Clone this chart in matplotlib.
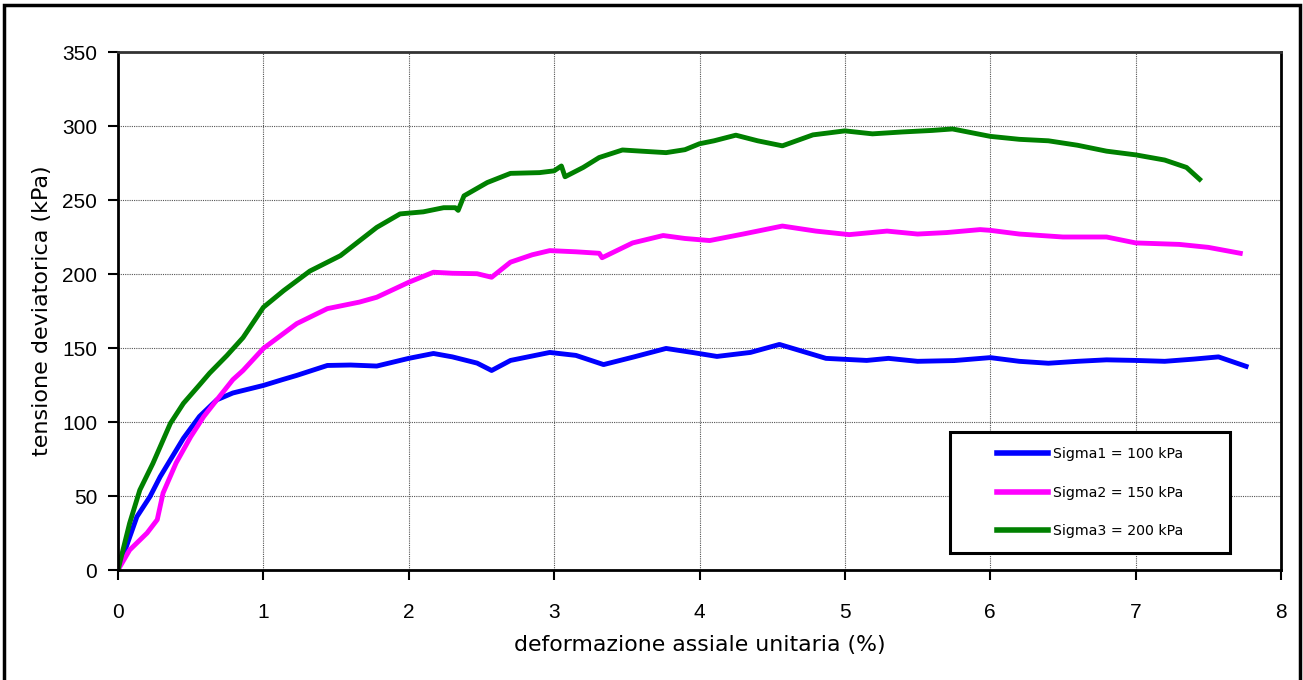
import matplotlib.pyplot as plt
from matplotlib.patches import Rectangle

# dati: deformazione (%) e tensione deviatorica (kPa)
x_s1 = [0, 0.04, 0.13, 0.22, 0.29, 0.36, 0.45, 0.56, 0.68, 0.79, 0.93, 1.0, 1.13, 1.23, 1.44, 1.6,
        1.78, 2.0, 2.17, 2.3, 2.47, 2.57, 2.7, 2.97, 3.15, 3.34, 3.55, 3.77, 3.95, 4.12, 4.35,
        4.55, 4.7, 4.87, 5.15, 5.3, 5.5, 5.75, 6.0, 6.2, 6.4, 6.6, 6.8, 7.0, 7.2, 7.4, 7.57, 7.76]
y_s1 = [0, 11, 36, 49.6, 63, 74.4, 89, 103.7, 115, 119.6, 123, 124.7, 128.6, 131.5, 138.2, 138.5,
        137.8, 143, 146.3, 144, 139.8, 134.8, 141.6, 147, 145, 138.8, 144, 149.7, 147, 144.3, 147,
        152.4, 148, 143, 141.6, 143, 141, 141.5, 143.5, 141, 139.7, 141, 142, 141.6, 141, 142.5, 144, 137.6]

x_s2 = [0, 0.08, 0.2, 0.27, 0.31, 0.4, 0.5, 0.59, 0.68, 0.79, 0.86, 1.0, 1.23, 1.44, 1.66, 1.78,
        2.0, 2.17, 2.3, 2.47, 2.57, 2.7, 2.85, 2.97, 3.15, 3.31, 3.33, 3.54, 3.75, 3.9, 4.07,
        4.3, 4.57, 4.8, 5.03, 5.29, 5.5, 5.7, 5.93, 6.0, 6.2, 6.5, 6.8, 7.0, 7.3, 7.5, 7.72]
y_s2 = [0, 13.5, 25, 34, 52, 72.4, 90, 103.7, 115, 128.6, 134.8, 149.7, 166.5, 176.6, 181, 184.3,
        194.4, 201.2, 200.5, 200.2, 197.8, 208, 213, 215.8, 215, 214, 211, 221, 226, 224, 222.6,
        227, 232.4, 229, 226.6, 229, 227, 228, 230, 229.5, 227, 225, 225, 221, 220, 218, 214]

x_s3 = [0, 0.08, 0.15, 0.24, 0.36, 0.45, 0.56, 0.63, 0.75, 0.86, 1.0, 1.14, 1.32, 1.53, 1.78,
        1.94, 2.1, 2.24, 2.32, 2.34, 2.38, 2.54, 2.7, 2.9, 3.0, 3.05, 3.075, 3.2, 3.31, 3.47,
        3.6, 3.77, 3.9, 4.0, 4.1, 4.25, 4.4, 4.57, 4.78, 5.0, 5.19, 5.4, 5.6, 5.74, 6.0, 6.2,
        6.4, 6.6, 6.8, 7.0, 7.2, 7.35, 7.44]
y_s3 = [0, 31.6, 54, 72, 99, 112.6, 125, 133, 145, 157, 177.5, 188.8, 202, 212.4, 231.5,
        240.6, 242, 244.8, 244.8, 243, 252.8, 261.8, 268, 268.5, 269.7, 273, 265.7, 272, 278.7, 283.8,
        283, 282, 284, 288, 290, 293.8, 290, 286.6, 294, 296.7, 294.7, 296, 297, 298, 293, 291,
        290, 287, 283, 280.5, 277, 272, 264]

x_ticks = [0, 1, 2, 3, 4, 5, 6, 7, 8]
y_ticks = [0, 50, 100, 150, 200, 250, 300, 350]

serie = ['Sigma1 = 100 kPa', 'Sigma2 = 150 kPa', 'Sigma3 = 200 kPa']
colori = ['#0000ff', '#ff00ff', '#008000']

fig = plt.figure(figsize=(13.03, 6.80), dpi=100)
ax = fig.add_axes([118/1303, 1 - 570/680, 1163/1303, 518/680])

ax.plot(x_s1, y_s1, color=colori[0], lw=3.5, label=serie[0])
ax.plot(x_s2, y_s2, color=colori[1], lw=3.5, label=serie[1])
ax.plot(x_s3, y_s3, color=colori[2], lw=3.5, label=serie[2])

ax.set_xlim(0, 8)
ax.set_ylim(0, 350)
ax.set_xticks(x_ticks)
ax.set_yticks(y_ticks)
ax.grid(True, color='#555555', linestyle=(0, (1, 1)), linewidth=0.8)
ax.tick_params(labelsize=15, length=7, width=1.5)
ax.tick_params(axis='x', pad=17)
ax.tick_params(axis='y', pad=8)
for lab in ax.get_xticklabels() + ax.get_yticklabels():
    lab.set_family('Liberation Sans')
for s in ax.spines.values():
    s.set_linewidth(2)
ax.spines['top'].set_color('#333333')

ax.set_xlabel('deformazione assiale unitaria (%)', fontsize=15.8, labelpad=9)
ax.set_ylabel('tensione deviatorica (kPa)', fontsize=16, labelpad=7)

# riquadro legenda
box = Rectangle((0.7154, 0.0328), 0.2408, 0.2336, transform=ax.transAxes,
                facecolor='white', edgecolor='black', linewidth=2.2, zorder=5)
ax.add_patch(box)
leg = ax.legend(loc='center', bbox_to_anchor=(0.7154 + 0.1204, 0.0328 + 0.1168), fontsize=10.2,
                frameon=False, labelspacing=1.75, handlelength=3.6, handletextpad=0.3)
leg.set_zorder(6)
for h in leg.get_lines():
    h.set_linewidth(4)

# cornice esterna
fig.patches.append(Rectangle((4/1303, -0.01), 1296/1303, 1.01 - 5/680, transform=fig.transFigure,
                             fill=False, edgecolor='black', linewidth=2.5))

fig.savefig('out.png', dpi=100)
